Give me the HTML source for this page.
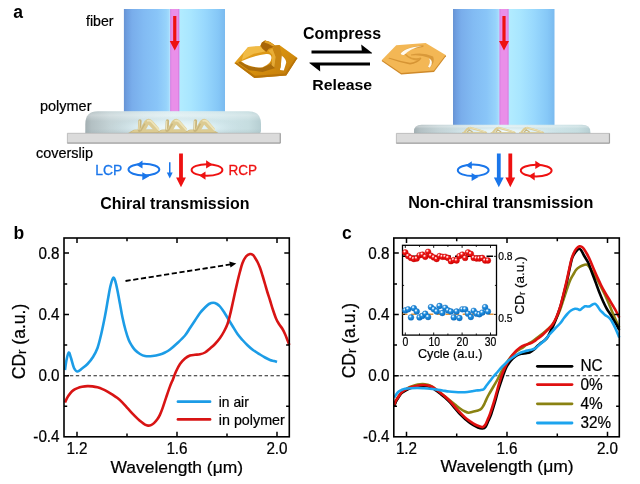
<!DOCTYPE html>
<html><head><meta charset="utf-8"><title>Figure</title>
<style>
html,body{margin:0;padding:0;background:#fff;overflow:hidden;}
svg{display:block;font-family:"Liberation Sans", sans-serif;}
</style></head><body>
<svg width="640" height="484" viewBox="0 0 640 484">
<rect width="640" height="484" fill="#fff"/>
<defs>
<linearGradient id="fib" x1="0" x2="1" y1="0" y2="0">
<stop offset="0" stop-color="#6793d3"/><stop offset="0.03" stop-color="#6e9ee0"/><stop offset="0.08" stop-color="#79adeb"/>
<stop offset="0.2" stop-color="#82bbf3"/><stop offset="0.33" stop-color="#89c5f8"/><stop offset="0.42" stop-color="#97d3fb"/><stop offset="0.455" stop-color="#a6defd"/>
<stop offset="0.55" stop-color="#b2ecff"/><stop offset="0.66" stop-color="#a9e6ff"/><stop offset="0.8" stop-color="#98d8fd"/>
<stop offset="0.93" stop-color="#86c8f7"/><stop offset="1" stop-color="#7abaef"/>
</linearGradient>
<linearGradient id="poly" x1="0" x2="1" y1="0" y2="0">
<stop offset="0" stop-color="#a3afb2"/><stop offset="0.035" stop-color="#b3c0c3"/><stop offset="0.14" stop-color="#c4d3d6"/>
<stop offset="0.33" stop-color="#d2e4e8"/><stop offset="0.5" stop-color="#dbedf1"/><stop offset="0.75" stop-color="#d0e6ea"/>
<stop offset="0.93" stop-color="#c6dde0"/><stop offset="1" stop-color="#b6ced2"/>
</linearGradient>
<linearGradient id="polyh" x1="0" x2="0" y1="0" y2="1">
<stop offset="0" stop-color="#ffffff" stop-opacity="0.05"/><stop offset="0.18" stop-color="#ffffff" stop-opacity="0.28"/><stop offset="0.45" stop-color="#ffffff" stop-opacity="0"/>
<stop offset="0.8" stop-color="#90a8ae" stop-opacity="0"/><stop offset="1" stop-color="#90a8ae" stop-opacity="0.22"/>
</linearGradient>
<radialGradient id="polyglow" cx="0.5" cy="0.6" r="0.5">
<stop offset="0" stop-color="#f2fbfd" stop-opacity="1"/><stop offset="0.55" stop-color="#dff1f6" stop-opacity="0.7"/><stop offset="1" stop-color="#c0d8de" stop-opacity="0"/>
</radialGradient>
<linearGradient id="gold" x1="0" x2="1" y1="0" y2="1">
<stop offset="0" stop-color="#f0b030"/><stop offset="0.5" stop-color="#d8920f"/><stop offset="1" stop-color="#c07808"/>
</linearGradient>
<radialGradient id="rd" cx="0.36" cy="0.32" r="0.72">
<stop offset="0" stop-color="#ffffff"/><stop offset="0.14" stop-color="#ffc8c8"/><stop offset="0.38" stop-color="#f21818"/><stop offset="1" stop-color="#d40000"/>
</radialGradient>
<radialGradient id="bd" cx="0.36" cy="0.32" r="0.72">
<stop offset="0" stop-color="#ffffff"/><stop offset="0.14" stop-color="#c8e8ff"/><stop offset="0.38" stop-color="#2490e0"/><stop offset="1" stop-color="#0a70c4"/>
</radialGradient>
</defs>
<rect x="123.9" y="9" width="101.1" height="102.8" fill="url(#fib)"/>
<rect x="170.25" y="9" width="9.0" height="102.8" fill="#e98fe9"/>
<rect x="169.35" y="9" width="0.9" height="102.8" fill="#c0e2ff" opacity="0.8"/>
<rect x="170.25" y="9" width="0.9" height="102.8" fill="#d577de" opacity="0.8"/>
<rect x="178.35" y="9" width="0.9" height="102.8" fill="#d577de" opacity="0.8"/>
<path d="M173.15,16 H176.35 V41 H179.75 L174.75,50.5 L169.75,41 H173.15 Z" fill="#ee1111"/>
<path d="M85.3,133.2 V124 Q85.3,111.2 98,111.2 H248.5 Q261,111.2 261,124 V131 Q261,133.2 259,133.2 Z" fill="url(#poly)"/>
<path d="M85.3,133.2 V124 Q85.3,111.2 98,111.2 H248.5 Q261,111.2 261,124 V131 Q261,133.2 259,133.2 Z" fill="url(#polyh)"/>
<ellipse cx="176" cy="125" rx="70" ry="11" fill="url(#polyglow)"/>
<path d="M127.80000000000001,133.2 L133.8,129.79999999999998 L156.3,129.6 L162.8,132.79999999999998 L161.3,133.2 Z" fill="#c8b57c"/>
<path d="M130.8,132.29999999999998 L134.70000000000002,129.79999999999998 L156.3,129.6 L160.8,132.0 Z" fill="#dccb92"/>
<path d="M139.5,130.2 L139.9,120.99999999999999" stroke="#c8b57c" stroke-width="3.4" stroke-linecap="round" fill="none"/>
<path d="M138.9,129.2 L139.3,120.99999999999999" stroke="#ede4ba" stroke-width="1.1" stroke-linecap="round" fill="none"/>
<path d="M141.9,130.79999999999998 L146.70000000000002,122.6 Q148.60000000000002,120.79999999999998 150.5,122.6 L157.3,130.2" stroke="#dccb92" stroke-width="5.4" stroke-linejoin="round" fill="none"/>
<path d="M147.70000000000002,120.79999999999998 Q149.9,119.99999999999999 151.5,121.6 L158.70000000000002,129.6" stroke="#ede4ba" stroke-width="1.7" stroke-linecap="round" fill="none"/>
<path d="M140.70000000000002,131.0 L144.9,123.6" stroke="#c8b57c" stroke-width="1.5" fill="none"/>
<path d="M155.3,133.2 L161.3,129.79999999999998 L183.8,129.6 L190.3,132.79999999999998 L188.8,133.2 Z" fill="#c8b57c"/>
<path d="M158.3,132.29999999999998 L162.20000000000002,129.79999999999998 L183.8,129.6 L188.3,132.0 Z" fill="#dccb92"/>
<path d="M167.0,130.2 L167.4,120.99999999999999" stroke="#c8b57c" stroke-width="3.4" stroke-linecap="round" fill="none"/>
<path d="M166.4,129.2 L166.8,120.99999999999999" stroke="#ede4ba" stroke-width="1.1" stroke-linecap="round" fill="none"/>
<path d="M169.4,130.79999999999998 L174.20000000000002,122.6 Q176.10000000000002,120.79999999999998 178.0,122.6 L184.8,130.2" stroke="#dccb92" stroke-width="5.4" stroke-linejoin="round" fill="none"/>
<path d="M175.20000000000002,120.79999999999998 Q177.4,119.99999999999999 179.0,121.6 L186.20000000000002,129.6" stroke="#ede4ba" stroke-width="1.7" stroke-linecap="round" fill="none"/>
<path d="M168.20000000000002,131.0 L172.4,123.6" stroke="#c8b57c" stroke-width="1.5" fill="none"/>
<path d="M183.3,133.2 L189.3,129.79999999999998 L211.8,129.6 L218.3,132.79999999999998 L216.8,133.2 Z" fill="#c8b57c"/>
<path d="M186.3,132.29999999999998 L190.20000000000002,129.79999999999998 L211.8,129.6 L216.3,132.0 Z" fill="#dccb92"/>
<path d="M195.0,130.2 L195.4,120.99999999999999" stroke="#c8b57c" stroke-width="3.4" stroke-linecap="round" fill="none"/>
<path d="M194.4,129.2 L194.8,120.99999999999999" stroke="#ede4ba" stroke-width="1.1" stroke-linecap="round" fill="none"/>
<path d="M197.4,130.79999999999998 L202.20000000000002,122.6 Q204.10000000000002,120.79999999999998 206.0,122.6 L212.8,130.2" stroke="#dccb92" stroke-width="5.4" stroke-linejoin="round" fill="none"/>
<path d="M203.20000000000002,120.79999999999998 Q205.4,119.99999999999999 207.0,121.6 L214.20000000000002,129.6" stroke="#ede4ba" stroke-width="1.7" stroke-linecap="round" fill="none"/>
<path d="M196.20000000000002,131.0 L200.4,123.6" stroke="#c8b57c" stroke-width="1.5" fill="none"/>
<rect x="67.4" y="133.3" width="213" height="9.9" fill="#dbdbdb"/>
<path d="M67.4,133.3 H280.4 V143.2 H67.4 Z" fill="none" stroke="#b4b4b4" stroke-width="0.8"/>
<path d="M67.4,143 H280.2 V133.5" fill="none" stroke="#9e9e9e" stroke-width="1"/>
<rect x="453" y="9" width="101.5" height="116.4" fill="url(#fib)"/>
<rect x="499.5" y="9" width="9.0" height="116.4" fill="#e98fe9"/>
<rect x="498.6" y="9" width="0.9" height="116.4" fill="#c0e2ff" opacity="0.8"/>
<rect x="499.5" y="9" width="0.9" height="116.4" fill="#d577de" opacity="0.8"/>
<rect x="507.6" y="9" width="0.9" height="116.4" fill="#d577de" opacity="0.8"/>
<path d="M502.4,16 H505.6 V41 H509 L504,50.5 L499,41 H502.4 Z" fill="#ee1111"/>
<path d="M414,133.4 V131.5 Q414,124.8 421.5,124.8 H582 Q590.4,124.8 590.4,132 V133.4 Z" fill="url(#poly)"/>
<path d="M414,133.4 V131.5 Q414,124.8 421.5,124.8 H582 Q590.4,124.8 590.4,132 V133.4 Z" fill="url(#polyh)"/>
<ellipse cx="504" cy="130.5" rx="62" ry="5" fill="url(#polyglow)"/>
<path d="M462.1,132.8 H487.1" stroke="#dccb92" stroke-width="1.3" fill="none"/>
<path d="M464.1,132.6 L467.0,129.20000000000002 Q469.20000000000005,127.2 472.0,128.20000000000002 L479.20000000000005,130.20000000000002 L486.20000000000005,132.6" stroke="#dccb92" stroke-width="2" fill="none" stroke-linejoin="round"/>
<path d="M469.0,127.80000000000001 L472.0,128.0 L479.20000000000005,130.0 L485.20000000000005,132.0" stroke="#ede4ba" stroke-width="0.9" fill="none"/>
<path d="M467.20000000000005,132.20000000000002 L469.20000000000005,129.8 L472.6,132.0" stroke="#c8b57c" stroke-width="1.2" fill="none"/>
<path d="M490.7,132.8 H515.7" stroke="#dccb92" stroke-width="1.3" fill="none"/>
<path d="M492.7,132.6 L495.59999999999997,129.20000000000002 Q497.8,127.2 500.59999999999997,128.20000000000002 L507.8,130.20000000000002 L514.8,132.6" stroke="#dccb92" stroke-width="2" fill="none" stroke-linejoin="round"/>
<path d="M497.59999999999997,127.80000000000001 L500.59999999999997,128.0 L507.8,130.0 L513.8,132.0" stroke="#ede4ba" stroke-width="0.9" fill="none"/>
<path d="M495.8,132.20000000000002 L497.8,129.8 L501.2,132.0" stroke="#c8b57c" stroke-width="1.2" fill="none"/>
<path d="M519.1,132.8 H544.1" stroke="#dccb92" stroke-width="1.3" fill="none"/>
<path d="M521.1,132.6 L524.0,129.20000000000002 Q526.2,127.2 529.0,128.20000000000002 L536.2,130.20000000000002 L543.2,132.6" stroke="#dccb92" stroke-width="2" fill="none" stroke-linejoin="round"/>
<path d="M526.0,127.80000000000001 L529.0,128.0 L536.2,130.0 L542.2,132.0" stroke="#ede4ba" stroke-width="0.9" fill="none"/>
<path d="M524.2,132.20000000000002 L526.2,129.8 L529.6,132.0" stroke="#c8b57c" stroke-width="1.2" fill="none"/>
<rect x="396.4" y="133.4" width="213.2" height="9.9" fill="#dbdbdb"/>
<path d="M396.4,133.4 H609.6 V143.3 H396.4 Z" fill="none" stroke="#b4b4b4" stroke-width="0.8"/>
<path d="M396.4,143.1 H609.4 V133.6" fill="none" stroke="#9e9e9e" stroke-width="1"/>
<text x="86" y="26" font-size="15" font-weight="normal" text-anchor="start" fill="#000" textLength="27.5" lengthAdjust="spacingAndGlyphs" stroke="#000" stroke-width="0.22" >fiber</text>
<text x="40" y="110.5" font-size="15" font-weight="normal" text-anchor="start" fill="#000" textLength="51.5" lengthAdjust="spacingAndGlyphs" stroke="#000" stroke-width="0.22" >polymer</text>
<text x="36" y="158" font-size="15" font-weight="normal" text-anchor="start" fill="#000" textLength="57" lengthAdjust="spacingAndGlyphs" stroke="#000" stroke-width="0.22" >coverslip</text>
<text x="95.2" y="175.4" font-size="14.6" font-weight="normal" text-anchor="start" fill="#1a76ea" textLength="27" lengthAdjust="spacingAndGlyphs" stroke="#1a76ea" stroke-width="0.3">LCP</text>
<text x="228.4" y="175.4" font-size="14.6" font-weight="normal" text-anchor="start" fill="#ee1111" textLength="28.6" lengthAdjust="spacingAndGlyphs" stroke="#ee1111" stroke-width="0.3">RCP</text>
<text x="100.3" y="208.8" font-size="16.5" font-weight="bold" text-anchor="start" fill="#000" textLength="149.3" lengthAdjust="spacingAndGlyphs" >Chiral transmission</text>
<text x="408.2" y="208" font-size="16.5" font-weight="bold" text-anchor="start" fill="#000" textLength="185.2" lengthAdjust="spacingAndGlyphs" >Non-chiral transmission</text>
<text x="13.3" y="18.1" font-size="17.5" font-weight="bold" text-anchor="start" fill="#000" >a</text>
<text x="13.5" y="238.8" font-size="17.5" font-weight="bold" text-anchor="start" fill="#000" >b</text>
<text x="342" y="238.8" font-size="17.5" font-weight="bold" text-anchor="start" fill="#000" >c</text>
<text x="303" y="38.6" font-size="16" font-weight="bold" text-anchor="start" fill="#000" textLength="78" lengthAdjust="spacingAndGlyphs" >Compress</text>
<text x="312.2" y="89.8" font-size="15.3" font-weight="bold" text-anchor="start" fill="#000" textLength="60" lengthAdjust="spacingAndGlyphs" >Release</text>
<path d="M311.5,50.6 H361.8 L361.2,44.4 L372.2,53 L371.8,53.5 H311.5 Z" fill="#000"/>
<path d="M370,65.6 H320 L320.2,71.6 L309.3,63 L309.6,62.6 H370 Z" fill="#000"/>
<ellipse cx="143.9" cy="169.6" rx="15.4" ry="5.8" fill="none" stroke="#1a76ea" stroke-width="2"/>
<path d="M136.3,164.7 L142.5,160.6 L142.5,168.4 Z" fill="#1a76ea"/>
<path d="M149.3,176.29999999999998 L142.3,172.2 L142.3,180.2 Z" fill="#1a76ea"/>
<ellipse cx="207" cy="170" rx="15.4" ry="5.8" fill="none" stroke="#ee1111" stroke-width="2"/>
<path d="M212.6,164.4 L206.1,160.2 L206.1,168.4 Z" fill="#ee1111"/>
<path d="M199.2,175.4 L205.5,171.6 L205.5,179.8 Z" fill="#ee1111"/>
<ellipse cx="473.2" cy="170.3" rx="15.4" ry="5.8" fill="none" stroke="#1a76ea" stroke-width="2"/>
<path d="M465.59999999999997,165.4 L471.8,161.3 L471.8,169.10000000000002 Z" fill="#1a76ea"/>
<path d="M478.59999999999997,177.0 L471.59999999999997,172.9 L471.59999999999997,180.9 Z" fill="#1a76ea"/>
<ellipse cx="536.2" cy="170.6" rx="15.4" ry="5.8" fill="none" stroke="#ee1111" stroke-width="2"/>
<path d="M541.8000000000001,165.0 L535.3000000000001,160.79999999999998 L535.3000000000001,169.0 Z" fill="#ee1111"/>
<path d="M528.4000000000001,176.0 L534.7,172.2 L534.7,180.4 Z" fill="#ee1111"/>
<path d="M179.1,153.5 H182.9 V177.6 H185.9 L181,187.2 L176.1,177.6 H179.1 Z" fill="#ee1111"/>
<path d="M496.90000000000003,153.5 H500.7 V177.6 H503.7 L498.8,187.2 L493.90000000000003,177.6 H496.90000000000003 Z" fill="#1a76ea"/>
<path d="M508.40000000000003,153.5 H512.2 V177.6 H515.2 L510.3,187.2 L505.40000000000003,177.6 H508.40000000000003 Z" fill="#ee1111"/>
<path d="M169,162.3 H170.5 V172.5 H172.7 L169.75,178.6 L166.8,172.5 H169 Z" fill="#1a76ea"/>
<path d="M234.4,63.1 L248.1,46.9 L260.0,46.2 L261.9,42.5 L265.0,40.6 L270.0,41.9 L275.0,45.6 L279.4,45.0 L297.5,58.1 L286.2,75.6 L254.4,78.1 Z" fill="url(#gold)"/>
<path d="M234.4,63.1 L254.4,78.1 L286.2,75.6 L297.5,58.1 L295.6,58.1 L285.2,73.5 L255.0,75.8 L236.9,62.8 Z" fill="#b87409"/>
<path d="M240.0,61.2 L250.0,66.5 L262.5,67.8 L270.6,64.0 L275.0,56.9 L276.9,67.5 L262.5,71.9 L248.8,70.2 L238.1,62.8 Z" fill="#a3660a" opacity="0.85"/>
<path d="M241.2,61.2 Q253.8,55.6 266.2,54.0 Q271.5,53.5 271.5,58.1 Q271.0,64.4 262.5,67.2 Q255.0,68.1 248.8,65.6 Q243.8,63.5 241.2,61.2 Z" fill="#fff"/>
<path d="M280.2,54.4 Q286.5,58.8 286.2,62.8 L283.8,70.6 L280.0,70.0 Q281.9,61.9 280.2,54.4 Z" fill="#fff"/>
<path d="M248.1,46.9 L260.0,46.2 L262.5,48.8 L266.2,51.2 L253.8,53.8 L241.9,60.0 L243.8,52.5 Z" fill="#f3bf4c" opacity="0.85"/>
<path d="M261.9,42.5 L265.0,40.6 L270.0,41.9 L275.0,45.6 L272.5,47.5 L268.8,48.8 L266.2,51.9 L262.5,48.8 L260.6,45.6 Z" fill="#a86508"/>
<path d="M265.0,40.6 L270.0,41.9 L275.0,45.6 L273.1,46.5 L268.1,43.8 L264.4,42.5 Z" fill="#e2a228"/>
<path d="M275.0,45.6 L279.4,45.0 L281.9,55.0 L280.6,67.5 L277.5,71.2 L274.4,67.5 L275.6,56.9 L272.5,48.8 Z" fill="#c98511"/>
<path d="M272.5,48.8 L275.6,56.9 L274.4,67.5 L271.5,65.0 L272.2,55.0 L268.1,50.6 Z" fill="#eab03a" opacity="0.9"/>
<path d="M381.9,60.0 L381.9,61.2 L401.2,74.5 L434.0,72.0 L445.9,56.2 L445.6,55.0 Z" fill="#cf8a2a"/>
<path d="M381.9,60.0 L396.2,45.2 L425.6,43.1 L445.6,55.0 L433.8,70.6 L401.2,73.1 Z" fill="#f3b755"/>
<path d="M400.2,53.5 Q405.0,46.9 423.4,45.2 Q424.0,46.2 423.1,47.0 Q408.1,48.8 403.5,54.8 Q401.5,55.0 400.2,53.5 Z" fill="#d9993a"/>
<path d="M400.5,53.8 Q404.5,47.5 421.9,46.0 Q410.0,48.8 404.0,55.0 Q402.0,55.5 400.5,53.8 Z" fill="#fffaf0"/>
<path d="M411.0,54.5 Q422.5,51.5 433.1,56.5 Q435.6,61.9 429.8,67.9 Q428.5,67.5 428.0,66.8 Q431.5,61.2 428.8,57.8 Q421.2,54.5 411.2,55.5 Q410.8,55.0 411.0,54.5 Z" fill="#d9993a"/>
<path d="M429.0,58.2 Q434.5,61.2 429.8,67.8 Q428.8,67.5 428.0,66.8 Q431.2,61.9 429.0,58.2 Z" fill="#fffaf0"/>
<path d="M388.5,58.5 Q398.8,62.2 410.0,64.5 Q417.5,63.5 421.5,58.5 Q420.8,57.8 420.0,58.2 Q416.2,61.8 410.0,62.8 Q398.8,60.8 389.5,57.8 Q388.5,57.8 388.5,58.5 Z" fill="#d69434"/>
<path d="M404.5,54.5 Q409.4,60.0 417.5,60.8 Q420.2,59.5 421.0,57.2 Q417.5,59.0 411.9,57.8 Q408.1,56.5 406.2,54.0 Q405.0,53.8 404.5,54.5 Z" fill="#dc9c3a"/>
<path d="M64,375.75 H289.3" stroke="#222" stroke-width="1.2" stroke-dasharray="3.4,2.5" fill="none"/>
<path d="M65.00,370.00 C65.25,368.33 65.88,362.92 66.50,360.00 C67.12,357.08 68.00,352.83 68.75,352.50 C69.50,352.17 70.12,355.42 71.00,358.00 C71.88,360.58 72.92,365.75 74.00,368.00 C75.08,370.25 76.17,371.42 77.50,371.50 C78.83,371.58 80.33,369.75 82.00,368.50 C83.67,367.25 85.67,365.92 87.50,364.00 C89.33,362.08 91.33,359.67 93.00,357.00 C94.67,354.33 96.17,351.67 97.50,348.00 C98.83,344.33 99.75,340.33 101.00,335.00 C102.25,329.67 103.83,322.00 105.00,316.00 C106.17,310.00 107.08,304.03 108.00,299.00 C108.92,293.97 109.62,289.33 110.50,285.80 C111.38,282.27 112.42,278.47 113.25,277.80 C114.08,277.13 114.79,279.63 115.50,281.80 C116.21,283.97 116.75,287.10 117.50,290.80 C118.25,294.50 119.17,299.55 120.00,304.00 C120.83,308.45 121.58,313.17 122.50,317.50 C123.42,321.83 124.46,326.25 125.50,330.00 C126.54,333.75 127.67,337.33 128.75,340.00 C129.83,342.67 130.96,344.33 132.00,346.00 C133.04,347.67 133.67,348.67 135.00,350.00 C136.33,351.33 138.33,353.00 140.00,354.00 C141.67,355.00 142.92,355.67 145.00,356.00 C147.08,356.33 150.00,356.25 152.50,356.00 C155.00,355.75 157.92,355.08 160.00,354.50 C162.08,353.92 163.33,353.33 165.00,352.50 C166.67,351.67 167.92,351.08 170.00,349.50 C172.08,347.92 175.00,345.33 177.50,343.00 C180.00,340.67 182.92,338.00 185.00,335.50 C187.08,333.00 188.33,330.50 190.00,328.00 C191.67,325.50 193.33,323.00 195.00,320.50 C196.67,318.00 198.33,315.17 200.00,313.00 C201.67,310.83 203.50,309.00 205.00,307.50 C206.50,306.00 207.62,304.79 209.00,304.00 C210.38,303.21 211.92,302.75 213.25,302.75 C214.58,302.75 215.88,303.38 217.00,304.00 C218.12,304.62 218.83,305.17 220.00,306.50 C221.17,307.83 222.75,310.12 224.00,312.00 C225.25,313.88 226.08,315.42 227.50,317.75 C228.92,320.08 230.83,323.29 232.50,326.00 C234.17,328.71 235.83,331.67 237.50,334.00 C239.17,336.33 240.83,338.12 242.50,340.00 C244.17,341.88 245.75,343.58 247.50,345.25 C249.25,346.92 250.92,348.46 253.00,350.00 C255.08,351.54 258.00,353.25 260.00,354.50 C262.00,355.75 263.33,356.58 265.00,357.50 C266.67,358.42 268.50,359.42 270.00,360.00 C271.50,360.58 272.83,360.67 274.00,361.00 C275.17,361.33 276.50,361.83 277.00,362.00" stroke="#1c9ce6" stroke-width="2.6" fill="none" stroke-linejoin="round"/>
<path d="M65.00,402.60 C65.33,401.85 66.17,399.60 67.00,398.10 C67.83,396.60 68.92,394.93 70.00,393.60 C71.08,392.27 72.25,391.02 73.50,390.10 C74.75,389.18 76.08,388.65 77.50,388.10 C78.92,387.55 80.33,387.13 82.00,386.80 C83.67,386.47 85.75,386.17 87.50,386.10 C89.25,386.03 90.83,386.19 92.50,386.40 C94.17,386.61 95.83,386.90 97.50,387.35 C99.17,387.80 100.83,388.39 102.50,389.10 C104.17,389.81 105.83,390.68 107.50,391.60 C109.17,392.52 110.83,393.52 112.50,394.60 C114.17,395.68 115.83,396.77 117.50,398.10 C119.17,399.43 120.83,400.93 122.50,402.60 C124.17,404.27 125.83,406.27 127.50,408.10 C129.17,409.93 130.83,411.85 132.50,413.60 C134.17,415.35 136.00,417.18 137.50,418.60 C139.00,420.02 140.25,421.10 141.50,422.10 C142.75,423.10 143.92,424.02 145.00,424.60 C146.08,425.18 147.00,425.52 148.00,425.60 C149.00,425.68 150.00,425.52 151.00,425.10 C152.00,424.68 152.92,424.10 154.00,423.10 C155.08,422.10 156.50,420.52 157.50,419.10 C158.50,417.68 159.17,416.38 160.00,414.60 C160.83,412.82 161.46,411.33 162.50,408.42 C163.54,405.51 165.00,400.82 166.25,397.14 C167.50,393.47 168.88,389.37 170.00,386.37 C171.12,383.37 172.00,381.62 173.00,379.15 C174.00,376.67 174.83,374.02 176.00,371.50 C177.17,368.98 178.50,366.17 180.00,364.00 C181.50,361.83 183.33,359.92 185.00,358.50 C186.67,357.08 188.33,356.12 190.00,355.50 C191.67,354.88 193.33,355.00 195.00,354.80 C196.67,354.60 198.33,354.68 200.00,354.30 C201.67,353.92 203.33,353.47 205.00,352.50 C206.67,351.53 208.33,349.92 210.00,348.50 C211.67,347.08 213.33,345.75 215.00,344.00 C216.67,342.25 218.50,340.08 220.00,338.00 C221.50,335.92 222.75,333.83 224.00,331.50 C225.25,329.17 226.50,326.75 227.50,324.00 C228.50,321.25 229.17,318.33 230.00,315.00 C230.83,311.67 231.67,307.75 232.50,304.00 C233.33,300.25 234.17,296.25 235.00,292.50 C235.83,288.75 236.67,285.00 237.50,281.50 C238.33,278.00 239.17,274.58 240.00,271.50 C240.83,268.42 241.50,265.50 242.50,263.00 C243.50,260.50 244.75,258.00 246.00,256.50 C247.25,255.00 248.83,254.25 250.00,254.00 C251.17,253.75 252.17,254.38 253.00,255.00 C253.83,255.62 254.25,256.58 255.00,257.75 C255.75,258.92 256.67,260.33 257.50,262.00 C258.33,263.67 259.17,265.50 260.00,267.75 C260.83,270.00 261.67,272.79 262.50,275.50 C263.33,278.21 264.17,281.17 265.00,284.00 C265.83,286.83 266.67,289.79 267.50,292.50 C268.33,295.21 269.08,297.33 270.00,300.25 C270.92,303.17 271.96,306.88 273.00,310.00 C274.04,313.12 275.25,316.67 276.25,319.00 C277.25,321.33 277.96,322.33 279.00,324.00 C280.04,325.67 281.50,327.33 282.50,329.00 C283.50,330.67 284.17,332.12 285.00,334.00 C285.83,335.88 286.78,338.42 287.50,340.25 C288.22,342.08 289.00,344.21 289.30,345.00" stroke="#d81414" stroke-width="2.6" fill="none" stroke-linejoin="round"/>
<rect x="64" y="238" width="225.3" height="198.8" fill="none" stroke="#000" stroke-width="1.6"/>
<path d="M77,436.8 v-5 M77,238 v5 M177,436.8 v-5 M177,238 v5 M277,436.8 v-5 M277,238 v5 M127,436.8 v-3.2 M127,238 v3.2 M227,436.8 v-3.2 M227,238 v3.2 M64,253 h5 M289.3,253 h-5 M64,314.5 h5 M289.3,314.5 h-5 M64,375.75 h5 M289.3,375.75 h-5 M64,284 h3.2 M289.3,284 h-3.2 M64,345 h3.2 M289.3,345 h-3.2 M64,406.25 h3.2 M289.3,406.25 h-3.2 " stroke="#000" stroke-width="1.5" fill="none"/>
<path d="M125.5,281 L231,264.3" stroke="#000" stroke-width="1.8" stroke-dasharray="5.2,2.6" fill="none"/>
<path d="M236.3,263.4 L229.3,261.4 L230.5,267.6 Z" fill="#000"/>
<path d="M178,401.7 H210" stroke="#1c9ce6" stroke-width="2.8" stroke-linecap="round"/>
<path d="M178,419.4 H210" stroke="#d81414" stroke-width="2.8" stroke-linecap="round"/>
<text x="218.8" y="406.5" font-size="14.5" font-weight="normal" text-anchor="start" fill="#000" textLength="30" lengthAdjust="spacingAndGlyphs" stroke="#000" stroke-width="0.22" >in air</text>
<text x="218.8" y="424.8" font-size="14.5" font-weight="normal" text-anchor="start" fill="#000" textLength="66" lengthAdjust="spacingAndGlyphs" stroke="#000" stroke-width="0.22" >in polymer</text>
<text x="59.6" y="258.6" font-size="16" font-weight="normal" text-anchor="end" fill="#000" textLength="21.2" lengthAdjust="spacingAndGlyphs" stroke="#000" stroke-width="0.22" >0.8</text>
<text x="59.6" y="320.1" font-size="16" font-weight="normal" text-anchor="end" fill="#000" textLength="21.2" lengthAdjust="spacingAndGlyphs" stroke="#000" stroke-width="0.22" >0.4</text>
<text x="59.6" y="381.35" font-size="16" font-weight="normal" text-anchor="end" fill="#000" textLength="21.2" lengthAdjust="spacingAndGlyphs" stroke="#000" stroke-width="0.22" >0.0</text>
<text x="59.6" y="442.40000000000003" font-size="16" font-weight="normal" text-anchor="end" fill="#000" textLength="26.3" lengthAdjust="spacingAndGlyphs" stroke="#000" stroke-width="0.22" >-0.4</text>
<text x="77" y="454.1" font-size="16" font-weight="normal" text-anchor="middle" fill="#000" textLength="21.2" lengthAdjust="spacingAndGlyphs" stroke="#000" stroke-width="0.22" >1.2</text>
<text x="177" y="454.1" font-size="16" font-weight="normal" text-anchor="middle" fill="#000" textLength="21.2" lengthAdjust="spacingAndGlyphs" stroke="#000" stroke-width="0.22" >1.6</text>
<text x="277" y="454.1" font-size="16" font-weight="normal" text-anchor="middle" fill="#000" textLength="21.2" lengthAdjust="spacingAndGlyphs" stroke="#000" stroke-width="0.22" >2.0</text>
<text x="110.5" y="472.5" font-size="17" font-weight="normal" text-anchor="start" fill="#000" textLength="132.6" lengthAdjust="spacingAndGlyphs" stroke="#000" stroke-width="0.22" >Wavelength (μm)</text>
<text transform="translate(25,379.2) rotate(-90)" stroke="#000" stroke-width="0.22" font-size="18" textLength="75.5" lengthAdjust="spacingAndGlyphs">CD<tspan font-size="13.5" dy="1">r</tspan><tspan dy="-1"> (a.u.)</tspan></text>
<path d="M393.8,375.75 H619.3" stroke="#222" stroke-width="1.2" stroke-dasharray="3.4,2.5" fill="none"/>
<path d="M394.25,405.00 C395.00,403.50 396.96,398.50 398.75,396.00 C400.54,393.50 403.12,391.50 405.00,390.00 C406.88,388.50 408.33,387.78 410.00,387.00 C411.67,386.22 413.33,385.75 415.00,385.30 C416.67,384.85 418.33,384.47 420.00,384.30 C421.67,384.13 423.33,384.10 425.00,384.30 C426.67,384.50 428.33,384.80 430.00,385.50 C431.67,386.20 433.33,387.33 435.00,388.50 C436.67,389.67 438.33,391.17 440.00,392.50 C441.67,393.83 443.33,395.17 445.00,396.50 C446.67,397.83 448.33,399.17 450.00,400.50 C451.67,401.83 453.33,403.17 455.00,404.50 C456.67,405.83 458.33,407.33 460.00,408.50 C461.67,409.67 463.54,410.80 465.00,411.50 C466.46,412.20 467.58,412.62 468.75,412.70 C469.92,412.78 470.96,412.23 472.00,412.00 C473.04,411.77 474.00,411.55 475.00,411.30 C476.00,411.05 476.96,410.93 478.00,410.50 C479.04,410.07 480.33,409.58 481.25,408.75 C482.17,407.92 482.88,406.54 483.50,405.50 C484.12,404.46 484.33,403.92 485.00,402.50 C485.67,401.08 486.67,398.67 487.50,397.00 C488.33,395.33 489.00,394.25 490.00,392.50 C491.00,390.75 492.25,388.67 493.50,386.50 C494.75,384.33 496.25,381.83 497.50,379.50 C498.75,377.17 499.75,374.83 501.00,372.50 C502.25,370.17 503.75,367.58 505.00,365.50 C506.25,363.42 507.25,361.75 508.50,360.00 C509.75,358.25 511.08,356.50 512.50,355.00 C513.92,353.50 515.54,352.08 517.00,351.00 C518.46,349.92 519.58,349.58 521.25,348.50 C522.92,347.42 525.12,345.71 527.00,344.50 C528.88,343.29 530.75,342.42 532.50,341.25 C534.25,340.08 535.83,338.75 537.50,337.50 C539.17,336.25 540.83,335.08 542.50,333.75 C544.17,332.42 545.83,331.04 547.50,329.50 C549.17,327.96 551.00,326.42 552.50,324.50 C554.00,322.58 555.25,320.42 556.50,318.00 C557.75,315.58 558.83,313.08 560.00,310.00 C561.17,306.92 562.25,303.25 563.50,299.50 C564.75,295.75 566.33,290.83 567.50,287.50 C568.67,284.17 569.46,281.79 570.50,279.50 C571.54,277.21 572.83,275.33 573.75,273.75 C574.67,272.17 575.17,271.04 576.00,270.00 C576.83,268.96 577.67,268.25 578.75,267.50 C579.83,266.75 581.25,266.00 582.50,265.50 C583.75,265.00 585.25,264.42 586.25,264.50 C587.25,264.58 587.67,265.08 588.50,266.00 C589.33,266.92 590.25,268.50 591.25,270.00 C592.25,271.50 593.46,273.33 594.50,275.00 C595.54,276.67 596.42,278.00 597.50,280.00 C598.58,282.00 599.75,284.50 601.00,287.00 C602.25,289.50 603.67,292.17 605.00,295.00 C606.33,297.83 607.75,301.08 609.00,304.00 C610.25,306.92 611.33,309.75 612.50,312.50 C613.67,315.25 614.88,318.00 616.00,320.50 C617.12,323.00 618.71,326.33 619.25,327.50" stroke="#8a8212" stroke-width="2.6" fill="none" stroke-linejoin="round"/>
<path d="M394.25,406.00 C394.54,405.25 395.25,403.00 396.00,401.50 C396.75,400.00 397.83,398.38 398.75,397.00 C399.67,395.62 400.46,394.23 401.50,393.20 C402.54,392.17 403.58,391.62 405.00,390.80 C406.42,389.98 408.33,388.93 410.00,388.30 C411.67,387.67 413.33,387.38 415.00,387.00 C416.67,386.62 418.54,386.20 420.00,386.00 C421.46,385.80 422.42,385.75 423.75,385.80 C425.08,385.85 426.54,385.93 428.00,386.30 C429.46,386.67 431.17,387.30 432.50,388.00 C433.83,388.70 434.75,389.58 436.00,390.50 C437.25,391.42 438.50,392.33 440.00,393.50 C441.50,394.67 443.33,396.00 445.00,397.50 C446.67,399.00 447.50,399.75 450.00,402.50 C452.50,405.25 456.67,410.58 460.00,414.00 C463.33,417.42 467.00,420.75 470.00,423.00 C473.00,425.25 475.92,426.58 478.00,427.50 C480.08,428.42 481.25,428.58 482.50,428.50 C483.75,428.42 484.50,428.33 485.50,427.00 C486.50,425.67 487.54,422.67 488.50,420.50 C489.46,418.33 490.17,417.08 491.25,414.00 C492.33,410.92 493.88,405.83 495.00,402.00 C496.12,398.17 496.96,394.50 498.00,391.00 C499.04,387.50 500.25,384.00 501.25,381.00 C502.25,378.00 503.17,375.25 504.00,373.00 C504.83,370.75 505.42,369.17 506.25,367.50 C507.08,365.83 507.96,364.46 509.00,363.00 C510.04,361.54 511.25,360.00 512.50,358.75 C513.75,357.50 515.04,356.33 516.50,355.50 C517.96,354.67 519.67,354.13 521.25,353.75 C522.83,353.37 524.54,353.44 526.00,353.20 C527.46,352.96 528.67,352.92 530.00,352.30 C531.33,351.68 532.75,350.55 534.00,349.50 C535.25,348.45 536.50,346.96 537.50,346.00 C538.50,345.04 538.75,344.75 540.00,343.75 C541.25,342.75 543.67,341.21 545.00,340.00 C546.33,338.79 547.07,338.00 548.00,336.50 C548.93,335.00 549.60,333.00 550.58,331.00 C551.55,329.00 552.68,327.17 553.84,324.50 C554.99,321.83 556.31,318.33 557.50,315.00 C558.69,311.67 559.92,308.17 561.00,304.50 C562.08,300.83 562.96,297.08 564.00,293.00 C565.04,288.92 566.25,284.33 567.25,280.00 C568.25,275.67 569.15,270.75 570.00,267.00 C570.85,263.25 571.34,260.08 572.34,257.50 C573.34,254.92 574.93,252.96 576.00,251.50 C577.07,250.04 577.92,249.00 578.75,248.75 C579.58,248.50 580.12,248.88 581.00,250.00 C581.88,251.12 582.77,253.33 584.00,255.50 C585.23,257.67 587.08,260.17 588.40,263.00 C589.72,265.83 590.65,269.17 591.90,272.50 C593.15,275.83 594.65,279.67 595.90,283.00 C597.15,286.33 598.15,289.33 599.40,292.50 C600.65,295.67 602.15,299.25 603.40,302.00 C604.65,304.75 605.65,306.83 606.90,309.00 C608.15,311.17 609.72,313.08 610.90,315.00 C612.08,316.92 612.98,318.75 614.00,320.50 C615.02,322.25 616.12,323.92 617.00,325.50 C617.88,327.08 618.88,329.25 619.25,330.00" stroke="#000" stroke-width="2.6" fill="none" stroke-linejoin="round"/>
<path d="M394.25,405.00 C394.54,404.25 395.25,401.96 396.00,400.50 C396.75,399.04 397.83,397.58 398.75,396.25 C399.67,394.92 400.46,393.54 401.50,392.50 C402.54,391.46 403.58,390.83 405.00,390.00 C406.42,389.17 408.33,388.12 410.00,387.50 C411.67,386.88 413.33,386.62 415.00,386.25 C416.67,385.88 418.54,385.51 420.00,385.30 C421.46,385.09 422.42,384.97 423.75,385.00 C425.08,385.03 426.54,385.17 428.00,385.50 C429.46,385.83 431.17,386.33 432.50,387.00 C433.83,387.67 434.75,388.58 436.00,389.50 C437.25,390.42 438.50,391.33 440.00,392.50 C441.50,393.67 443.33,395.04 445.00,396.50 C446.67,397.96 448.33,399.50 450.00,401.25 C451.67,403.00 453.33,405.12 455.00,407.00 C456.67,408.88 458.33,410.75 460.00,412.50 C461.67,414.25 463.33,416.04 465.00,417.50 C466.67,418.96 468.33,420.08 470.00,421.25 C471.67,422.42 473.33,423.62 475.00,424.50 C476.67,425.38 478.67,426.08 480.00,426.50 C481.33,426.92 482.08,427.33 483.00,427.00 C483.92,426.67 484.75,425.67 485.50,424.50 C486.25,423.33 486.75,421.75 487.50,420.00 C488.25,418.25 488.96,416.92 490.00,414.00 C491.04,411.08 492.58,406.33 493.75,402.50 C494.92,398.67 495.96,394.67 497.00,391.00 C498.04,387.33 499.00,383.67 500.00,380.50 C501.00,377.33 501.96,374.58 503.00,372.00 C504.04,369.42 505.25,367.00 506.25,365.00 C507.25,363.00 507.96,361.67 509.00,360.00 C510.04,358.33 511.33,356.50 512.50,355.00 C513.67,353.50 514.75,352.25 516.00,351.00 C517.25,349.75 518.50,348.50 520.00,347.50 C521.50,346.50 523.33,345.67 525.00,345.00 C526.67,344.33 528.50,344.08 530.00,343.50 C531.50,342.92 532.75,342.29 534.00,341.50 C535.25,340.71 536.08,339.83 537.50,338.75 C538.92,337.67 540.83,336.46 542.50,335.00 C544.17,333.54 545.83,331.75 547.50,330.00 C549.17,328.25 551.00,326.67 552.50,324.50 C554.00,322.33 555.25,319.83 556.50,317.00 C557.75,314.17 558.92,311.00 560.00,307.50 C561.08,304.00 561.96,300.17 563.00,296.00 C564.04,291.83 565.25,286.83 566.25,282.50 C567.25,278.17 568.17,273.75 569.00,270.00 C569.83,266.25 570.46,262.83 571.25,260.00 C572.04,257.17 572.92,254.88 573.75,253.00 C574.58,251.12 575.29,249.88 576.25,248.75 C577.21,247.62 578.54,246.54 579.50,246.25 C580.46,245.96 581.29,246.58 582.00,247.00 C582.71,247.42 582.92,247.58 583.75,248.75 C584.58,249.92 585.96,252.12 587.00,254.00 C588.04,255.88 588.88,257.50 590.00,260.00 C591.12,262.50 592.50,266.08 593.75,269.00 C595.00,271.92 596.29,274.83 597.50,277.50 C598.71,280.17 599.75,282.50 601.00,285.00 C602.25,287.50 603.67,290.17 605.00,292.50 C606.33,294.83 607.75,296.92 609.00,299.00 C610.25,301.08 611.33,303.00 612.50,305.00 C613.67,307.00 614.88,308.92 616.00,311.00 C617.12,313.08 618.71,316.42 619.25,317.50" stroke="#e01010" stroke-width="2.6" fill="none" stroke-linejoin="round"/>
<path d="M394.25,397.50 C394.62,396.92 395.75,395.00 396.50,394.00 C397.25,393.00 397.92,392.17 398.75,391.50 C399.58,390.83 400.46,390.46 401.50,390.00 C402.54,389.54 403.42,389.05 405.00,388.75 C406.58,388.45 408.92,388.32 411.00,388.20 C413.08,388.07 415.33,387.98 417.50,388.00 C419.67,388.02 421.92,388.18 424.00,388.30 C426.08,388.43 428.00,388.55 430.00,388.75 C432.00,388.95 433.92,389.21 436.00,389.50 C438.08,389.79 440.33,390.17 442.50,390.50 C444.67,390.83 446.92,391.25 449.00,391.50 C451.08,391.75 453.00,391.88 455.00,392.00 C457.00,392.12 458.92,392.20 461.00,392.20 C463.08,392.20 465.67,392.17 467.50,392.00 C469.33,391.83 470.58,391.45 472.00,391.20 C473.42,390.95 474.67,390.67 476.00,390.50 C477.33,390.33 478.71,390.42 480.00,390.20 C481.29,389.98 482.67,389.98 483.75,389.20 C484.83,388.42 485.46,386.87 486.50,385.50 C487.54,384.13 488.83,382.50 490.00,381.00 C491.17,379.50 492.25,378.00 493.50,376.50 C494.75,375.00 496.25,373.42 497.50,372.00 C498.75,370.58 499.75,369.33 501.00,368.00 C502.25,366.67 503.75,365.25 505.00,364.00 C506.25,362.75 507.25,361.58 508.50,360.50 C509.75,359.42 511.08,358.50 512.50,357.50 C513.92,356.50 515.58,355.33 517.00,354.50 C518.42,353.67 519.67,353.04 521.00,352.50 C522.33,351.96 523.50,351.67 525.00,351.25 C526.50,350.83 528.33,350.46 530.00,350.00 C531.67,349.54 533.67,349.17 535.00,348.50 C536.33,347.83 536.92,346.92 538.00,346.00 C539.08,345.08 540.33,344.00 541.50,343.00 C542.67,342.00 543.58,341.50 545.00,340.00 C546.42,338.50 548.33,335.92 550.00,334.00 C551.67,332.08 553.33,330.25 555.00,328.50 C556.67,326.75 558.50,325.25 560.00,323.50 C561.50,321.75 562.75,319.62 564.00,318.00 C565.25,316.38 566.33,315.00 567.50,313.75 C568.67,312.50 569.75,311.33 571.00,310.50 C572.25,309.67 573.83,308.97 575.00,308.75 C576.17,308.53 577.17,308.99 578.00,309.20 C578.83,309.41 579.25,310.20 580.00,310.00 C580.75,309.80 581.67,308.62 582.50,308.00 C583.33,307.38 584.17,306.50 585.00,306.25 C585.83,306.00 586.67,306.50 587.50,306.50 C588.33,306.50 589.17,306.58 590.00,306.25 C590.83,305.92 591.67,304.92 592.50,304.50 C593.33,304.08 594.25,303.58 595.00,303.75 C595.75,303.92 596.17,304.46 597.00,305.50 C597.83,306.54 599.08,308.83 600.00,310.00 C600.92,311.17 601.67,311.67 602.50,312.50 C603.33,313.33 604.17,314.33 605.00,315.00 C605.83,315.67 606.67,315.88 607.50,316.50 C608.33,317.12 609.17,317.75 610.00,318.75 C610.83,319.75 611.67,321.04 612.50,322.50 C613.33,323.96 614.25,325.92 615.00,327.50 C615.75,329.08 616.29,330.33 617.00,332.00 C617.71,333.67 618.88,336.58 619.25,337.50" stroke="#1ca4ee" stroke-width="2.6" fill="none" stroke-linejoin="round"/>
<rect x="393.8" y="238" width="225.49999999999994" height="198.8" fill="none" stroke="#000" stroke-width="1.6"/>
<path d="M406.5,436.8 v-5 M406.5,238 v5 M507,436.8 v-5 M507,238 v5 M607.5,436.8 v-5 M607.5,238 v5 M456.7,436.8 v-3.2 M456.7,238 v3.2 M557.3,436.8 v-3.2 M557.3,238 v3.2 M393.8,253 h5 M619.3,253 h-5 M393.8,314.5 h5 M619.3,314.5 h-5 M393.8,375.75 h5 M619.3,375.75 h-5 M393.8,284 h3.2 M619.3,284 h-3.2 M393.8,345 h3.2 M619.3,345 h-3.2 M393.8,406.25 h3.2 M619.3,406.25 h-3.2 " stroke="#000" stroke-width="1.5" fill="none"/>
<path d="M537.4,366.3 H572" stroke="#000" stroke-width="2.8" stroke-linecap="round"/>
<text x="580.5" y="370.8" font-size="16" font-weight="normal" text-anchor="start" fill="#000" textLength="22.2" lengthAdjust="spacingAndGlyphs" stroke="#000" stroke-width="0.22" >NC</text>
<path d="M537.4,384.6 H572" stroke="#e01010" stroke-width="2.8" stroke-linecap="round"/>
<text x="580.5" y="390" font-size="16" font-weight="normal" text-anchor="start" fill="#000" textLength="22.2" lengthAdjust="spacingAndGlyphs" stroke="#000" stroke-width="0.22" >0%</text>
<path d="M537.4,403.8 H572" stroke="#8a8212" stroke-width="2.8" stroke-linecap="round"/>
<text x="580.5" y="409" font-size="16" font-weight="normal" text-anchor="start" fill="#000" textLength="22.2" lengthAdjust="spacingAndGlyphs" stroke="#000" stroke-width="0.22" >4%</text>
<path d="M537.4,423 H572" stroke="#1ca4ee" stroke-width="2.8" stroke-linecap="round"/>
<text x="580.5" y="428.2" font-size="16" font-weight="normal" text-anchor="start" fill="#000" textLength="30.6" lengthAdjust="spacingAndGlyphs" stroke="#000" stroke-width="0.22" >32%</text>
<text x="389.4" y="258.6" font-size="16" font-weight="normal" text-anchor="end" fill="#000" textLength="21.2" lengthAdjust="spacingAndGlyphs" stroke="#000" stroke-width="0.22" >0.8</text>
<text x="389.4" y="320.1" font-size="16" font-weight="normal" text-anchor="end" fill="#000" textLength="21.2" lengthAdjust="spacingAndGlyphs" stroke="#000" stroke-width="0.22" >0.4</text>
<text x="389.4" y="381.35" font-size="16" font-weight="normal" text-anchor="end" fill="#000" textLength="21.2" lengthAdjust="spacingAndGlyphs" stroke="#000" stroke-width="0.22" >0.0</text>
<text x="389.4" y="442.40000000000003" font-size="16" font-weight="normal" text-anchor="end" fill="#000" textLength="26.3" lengthAdjust="spacingAndGlyphs" stroke="#000" stroke-width="0.22" >-0.4</text>
<text x="406.5" y="454.1" font-size="16" font-weight="normal" text-anchor="middle" fill="#000" textLength="21.2" lengthAdjust="spacingAndGlyphs" stroke="#000" stroke-width="0.22" >1.2</text>
<text x="507" y="454.1" font-size="16" font-weight="normal" text-anchor="middle" fill="#000" textLength="21.2" lengthAdjust="spacingAndGlyphs" stroke="#000" stroke-width="0.22" >1.6</text>
<text x="607.5" y="454.1" font-size="16" font-weight="normal" text-anchor="middle" fill="#000" textLength="21.2" lengthAdjust="spacingAndGlyphs" stroke="#000" stroke-width="0.22" >2.0</text>
<text x="440.5" y="472.0" font-size="17" font-weight="normal" text-anchor="start" fill="#000" textLength="133.2" lengthAdjust="spacingAndGlyphs" stroke="#000" stroke-width="0.22" >Wavelength (μm)</text>
<text transform="translate(355,378.3) rotate(-90)" stroke="#000" stroke-width="0.22" font-size="18" textLength="75.5" lengthAdjust="spacingAndGlyphs">CD<tspan font-size="13.5" dy="1">r</tspan><tspan dy="-1"> (a.u.)</tspan></text>
<rect x="402.5" y="245.3" width="94.0" height="89.80000000000001" fill="#fff" stroke="#000" stroke-width="1.3"/>
<path d="M402.5,256.3 H496.5" stroke="#000" stroke-width="1.6" stroke-dasharray="6.5,4" fill="none"/>
<path d="M402.5,314.3 H496.5" stroke="#e8963a" stroke-width="1.5" stroke-dasharray="5,3.6" fill="none"/>
<path d="M405.3,335.1 v-2.6 M405.3,245.3 v2.6 M433.7,335.1 v-2.6 M433.7,245.3 v2.6 M462.1,335.1 v-2.6 M462.1,245.3 v2.6 M490.5,335.1 v-2.6 M490.5,245.3 v2.6 M419.5,335.1 v-1.6 M419.5,245.3 v1.6 M447.9,335.1 v-1.6 M447.9,245.3 v1.6 M476.3,335.1 v-1.6 M476.3,245.3 v1.6 M496.5,256.3 h-2.6 M402.5,256.3 h2.6 M496.5,314.4 h-2.6 M402.5,314.4 h2.6 M496.5,285.4 h-1.6 M402.5,285.4 h1.6 " stroke="#000" stroke-width="0.9" fill="none"/>
<circle cx="405.30" cy="310.4" r="2.9" fill="url(#bd)" stroke="#0a68b8" stroke-width="0.4"/>
<circle cx="408.15" cy="309.3" r="2.9" fill="url(#bd)" stroke="#0a68b8" stroke-width="0.4"/>
<circle cx="411.00" cy="317.4" r="2.9" fill="url(#bd)" stroke="#0a68b8" stroke-width="0.4"/>
<circle cx="413.85" cy="308.2" r="2.9" fill="url(#bd)" stroke="#0a68b8" stroke-width="0.4"/>
<circle cx="416.70" cy="311.5" r="2.9" fill="url(#bd)" stroke="#0a68b8" stroke-width="0.4"/>
<circle cx="419.55" cy="317.4" r="2.9" fill="url(#bd)" stroke="#0a68b8" stroke-width="0.4"/>
<circle cx="422.40" cy="315.9" r="2.9" fill="url(#bd)" stroke="#0a68b8" stroke-width="0.4"/>
<circle cx="425.25" cy="313.7" r="2.9" fill="url(#bd)" stroke="#0a68b8" stroke-width="0.4"/>
<circle cx="428.10" cy="317" r="2.9" fill="url(#bd)" stroke="#0a68b8" stroke-width="0.4"/>
<circle cx="430.95" cy="307.1" r="2.9" fill="url(#bd)" stroke="#0a68b8" stroke-width="0.4"/>
<circle cx="433.80" cy="309.3" r="2.9" fill="url(#bd)" stroke="#0a68b8" stroke-width="0.4"/>
<circle cx="436.65" cy="311.5" r="2.9" fill="url(#bd)" stroke="#0a68b8" stroke-width="0.4"/>
<circle cx="439.50" cy="306" r="2.9" fill="url(#bd)" stroke="#0a68b8" stroke-width="0.4"/>
<circle cx="442.35" cy="313" r="2.9" fill="url(#bd)" stroke="#0a68b8" stroke-width="0.4"/>
<circle cx="445.20" cy="307.8" r="2.9" fill="url(#bd)" stroke="#0a68b8" stroke-width="0.4"/>
<circle cx="448.05" cy="310.4" r="2.9" fill="url(#bd)" stroke="#0a68b8" stroke-width="0.4"/>
<circle cx="450.90" cy="311.5" r="2.9" fill="url(#bd)" stroke="#0a68b8" stroke-width="0.4"/>
<circle cx="453.75" cy="317.4" r="2.9" fill="url(#bd)" stroke="#0a68b8" stroke-width="0.4"/>
<circle cx="456.60" cy="311.5" r="2.9" fill="url(#bd)" stroke="#0a68b8" stroke-width="0.4"/>
<circle cx="459.45" cy="318" r="2.9" fill="url(#bd)" stroke="#0a68b8" stroke-width="0.4"/>
<circle cx="462.30" cy="309.3" r="2.9" fill="url(#bd)" stroke="#0a68b8" stroke-width="0.4"/>
<circle cx="465.15" cy="309.3" r="2.9" fill="url(#bd)" stroke="#0a68b8" stroke-width="0.4"/>
<circle cx="468.00" cy="313.7" r="2.9" fill="url(#bd)" stroke="#0a68b8" stroke-width="0.4"/>
<circle cx="470.85" cy="317" r="2.9" fill="url(#bd)" stroke="#0a68b8" stroke-width="0.4"/>
<circle cx="473.70" cy="310.8" r="2.9" fill="url(#bd)" stroke="#0a68b8" stroke-width="0.4"/>
<circle cx="476.55" cy="313.7" r="2.9" fill="url(#bd)" stroke="#0a68b8" stroke-width="0.4"/>
<circle cx="479.40" cy="314.3" r="2.9" fill="url(#bd)" stroke="#0a68b8" stroke-width="0.4"/>
<circle cx="482.25" cy="312.6" r="2.9" fill="url(#bd)" stroke="#0a68b8" stroke-width="0.4"/>
<circle cx="485.10" cy="307.1" r="2.9" fill="url(#bd)" stroke="#0a68b8" stroke-width="0.4"/>
<circle cx="487.95" cy="311.5" r="2.9" fill="url(#bd)" stroke="#0a68b8" stroke-width="0.4"/>
<circle cx="405.30" cy="252.4" r="2.9" fill="url(#rd)" stroke="#c40000" stroke-width="0.4"/>
<circle cx="408.15" cy="256.1" r="2.9" fill="url(#rd)" stroke="#c40000" stroke-width="0.4"/>
<circle cx="411.00" cy="257.9" r="2.9" fill="url(#rd)" stroke="#c40000" stroke-width="0.4"/>
<circle cx="413.85" cy="259" r="2.9" fill="url(#rd)" stroke="#c40000" stroke-width="0.4"/>
<circle cx="416.70" cy="258.5" r="2.9" fill="url(#rd)" stroke="#c40000" stroke-width="0.4"/>
<circle cx="419.55" cy="255.3" r="2.9" fill="url(#rd)" stroke="#c40000" stroke-width="0.4"/>
<circle cx="422.40" cy="254.6" r="2.9" fill="url(#rd)" stroke="#c40000" stroke-width="0.4"/>
<circle cx="425.25" cy="256.8" r="2.9" fill="url(#rd)" stroke="#c40000" stroke-width="0.4"/>
<circle cx="428.10" cy="251.8" r="2.9" fill="url(#rd)" stroke="#c40000" stroke-width="0.4"/>
<circle cx="430.95" cy="255.7" r="2.9" fill="url(#rd)" stroke="#c40000" stroke-width="0.4"/>
<circle cx="433.80" cy="257.4" r="2.9" fill="url(#rd)" stroke="#c40000" stroke-width="0.4"/>
<circle cx="436.65" cy="259" r="2.9" fill="url(#rd)" stroke="#c40000" stroke-width="0.4"/>
<circle cx="439.50" cy="256.1" r="2.9" fill="url(#rd)" stroke="#c40000" stroke-width="0.4"/>
<circle cx="442.35" cy="256.8" r="2.9" fill="url(#rd)" stroke="#c40000" stroke-width="0.4"/>
<circle cx="445.20" cy="256.8" r="2.9" fill="url(#rd)" stroke="#c40000" stroke-width="0.4"/>
<circle cx="448.05" cy="257.9" r="2.9" fill="url(#rd)" stroke="#c40000" stroke-width="0.4"/>
<circle cx="450.90" cy="261.2" r="2.9" fill="url(#rd)" stroke="#c40000" stroke-width="0.4"/>
<circle cx="453.75" cy="260.1" r="2.9" fill="url(#rd)" stroke="#c40000" stroke-width="0.4"/>
<circle cx="456.60" cy="260.5" r="2.9" fill="url(#rd)" stroke="#c40000" stroke-width="0.4"/>
<circle cx="459.45" cy="256.1" r="2.9" fill="url(#rd)" stroke="#c40000" stroke-width="0.4"/>
<circle cx="462.30" cy="254.6" r="2.9" fill="url(#rd)" stroke="#c40000" stroke-width="0.4"/>
<circle cx="465.15" cy="257.9" r="2.9" fill="url(#rd)" stroke="#c40000" stroke-width="0.4"/>
<circle cx="468.00" cy="252.4" r="2.9" fill="url(#rd)" stroke="#c40000" stroke-width="0.4"/>
<circle cx="470.85" cy="253.9" r="2.9" fill="url(#rd)" stroke="#c40000" stroke-width="0.4"/>
<circle cx="473.70" cy="257.9" r="2.9" fill="url(#rd)" stroke="#c40000" stroke-width="0.4"/>
<circle cx="476.55" cy="258.5" r="2.9" fill="url(#rd)" stroke="#c40000" stroke-width="0.4"/>
<circle cx="479.40" cy="258.5" r="2.9" fill="url(#rd)" stroke="#c40000" stroke-width="0.4"/>
<circle cx="482.25" cy="257.9" r="2.9" fill="url(#rd)" stroke="#c40000" stroke-width="0.4"/>
<circle cx="485.10" cy="260.5" r="2.9" fill="url(#rd)" stroke="#c40000" stroke-width="0.4"/>
<circle cx="487.95" cy="260.5" r="2.9" fill="url(#rd)" stroke="#c40000" stroke-width="0.4"/>
<text x="405.3" y="345.5" font-size="12" font-weight="normal" text-anchor="middle" fill="#000" textLength="5.8" lengthAdjust="spacingAndGlyphs" stroke="#000" stroke-width="0.22" >0</text>
<text x="434.2" y="345.5" font-size="12" font-weight="normal" text-anchor="middle" fill="#000" textLength="11.6" lengthAdjust="spacingAndGlyphs" stroke="#000" stroke-width="0.22" >10</text>
<text x="462.4" y="345.5" font-size="12" font-weight="normal" text-anchor="middle" fill="#000" textLength="11.6" lengthAdjust="spacingAndGlyphs" stroke="#000" stroke-width="0.22" >20</text>
<text x="490.6" y="345.5" font-size="12" font-weight="normal" text-anchor="middle" fill="#000" textLength="11.6" lengthAdjust="spacingAndGlyphs" stroke="#000" stroke-width="0.22" >30</text>
<text x="498.3" y="260.2" font-size="11" font-weight="normal" text-anchor="start" fill="#000" textLength="14.3" lengthAdjust="spacingAndGlyphs" stroke="#000" stroke-width="0.22" >0.8</text>
<text x="498.3" y="322" font-size="11" font-weight="normal" text-anchor="start" fill="#000" textLength="14.3" lengthAdjust="spacingAndGlyphs" stroke="#000" stroke-width="0.22" >0.5</text>
<text x="418" y="358" font-size="12.5" font-weight="normal" text-anchor="start" fill="#000" textLength="64.5" lengthAdjust="spacingAndGlyphs" stroke="#000" stroke-width="0.22" >Cycle (a.u.)</text>
<text transform="translate(524.4,314.4) rotate(-90)" stroke="#000" stroke-width="0.2" font-size="13" textLength="58" lengthAdjust="spacingAndGlyphs">CD<tspan font-size="9.5" dy="0.8">r</tspan><tspan dy="-0.8"> (a.u.)</tspan></text>
</svg>
</body></html>
